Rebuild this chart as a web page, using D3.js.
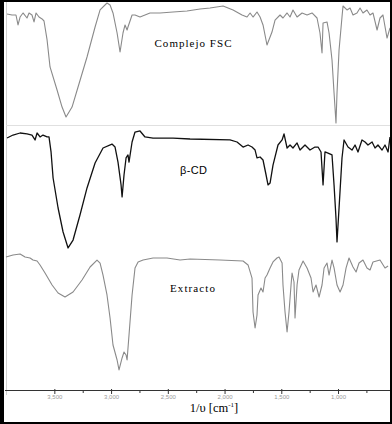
<!DOCTYPE html>
<html>
<head>
<meta charset="utf-8">
<script src="https://cdn.jsdelivr.net/npm/d3@7"></script>
<style>
  body { margin: 0; background: #fff; }
  svg { display: block; }
</style>
</head>
<body>
<svg id="chart" width="392" height="424"></svg>
<script>
// spectra: [wavenumber cm-1, transmittance %]
const complejoFSC = [
  [3917,93.3],[3873,92.5],[3838,92.5],[3820,84.2],[3802,90.8],[3776,94.2],[3741,90],[3723,94.2],
  [3697,92.5],[3679,86.7],[3661,94.2],[3635,90.8],[3608,89.2],[3591,87.5],[3564,71.7],[3538,49.2],
  [3476,30],[3432,15.8],[3397,7.5],[3344,15.8],[3291,32.5],[3212,57.5],[3141,82.5],[3097,96.7],
  [3036,102.5],[3009,100.8],[2983,94.2],[2947,77.5],[2921,61.7],[2895,77.5],[2877,84.2],[2859,80],
  [2851,82.5],[2815,92.5],[2789,92.5],[2745,90.8],[2657,94.2],[2569,94.2],[2454,95],[2331,95.8],
  [2216,97.5],[2128,98.3],[2013,100],[1925,96.7],[1846,92.5],[1802,90.8],[1775,94.2],[1749,90.8],
  [1714,95],[1687,90.8],[1661,84.2],[1626,67.5],[1582,78.3],[1555,88.3],[1511,92.5],[1485,90],
  [1449,94.2],[1423,90.8],[1397,96.7],[1361,90.8],[1317,94.2],[1273,92.5],[1229,94.2],[1185,90],
  [1159,77.5],[1141,60.8],[1132,85.8],[1097,86.7],[1079,77.5],[1053,55],[1035,27.5],[1018,2.5],
  [1009,27.5],[991,63.3],[965,90.8],[956,100],[921,96.7],[894,98.3],[868,92.5],[833,94.2],
  [806,98.3],[780,94.2],[745,96.7],[718,92.5],[692,94.2],[656,80],[630,90],[604,92.5],
  [568,73.3],[542,81.7]
];

const betaCD = [
  [3917,93.3],[3864,95.8],[3802,97.5],[3741,96.7],[3697,95.8],[3670,91.7],[3652,97.5],[3626,94.2],
  [3600,95.8],[3564,94.2],[3547,94.2],[3529,81.7],[3511,60],[3467,35],[3423,15],[3379,1.7],
  [3335,8.3],[3274,29.2],[3212,51.7],[3141,72.5],[3071,85],[2992,88.3],[2965,85.8],[2939,73.3],
  [2912,54.2],[2903,44.2],[2886,62.5],[2868,76.7],[2851,79.2],[2842,73.3],[2815,90],[2789,98.3],
  [2745,99.2],[2701,94.2],[2630,93.3],[2454,93.3],[2304,92.5],[1952,91.7],[1890,90],[1837,85.8],
  [1793,87.5],[1758,85.8],[1731,83.3],[1714,76.7],[1687,77.5],[1661,75],[1634,62.5],[1617,54.2],
  [1599,55.8],[1573,70.8],[1529,87.5],[1493,91.7],[1476,96.7],[1449,85],[1423,87.5],[1397,85],
  [1361,89.2],[1335,83.3],[1291,87.5],[1247,83.3],[1203,85.8],[1176,85.8],[1150,81.7],[1132,54.2],
  [1115,81.7],[1088,80.8],[1053,79.2],[1035,54.2],[1018,26.7],[1009,6.7],[991,35],[965,76.7],
  [947,91.7],[912,85.8],[877,83.3],[850,87.5],[824,81.7],[789,91.7],[762,90],[736,87.5],
  [700,90],[674,85],[648,87.5],[612,83.3],[586,87.5],[559,81.7],[542,94.2]
];

const extracto = [
  [3926,95.8],[3864,97.5],[3802,98.3],[3758,95.8],[3714,95],[3688,93.3],[3652,92.5],[3626,89.2],
  [3582,82.5],[3520,72.5],[3467,65.8],[3406,62.5],[3335,66.7],[3256,76.7],[3185,87.5],[3124,93.3],
  [3097,90.8],[3071,80.8],[3036,64.2],[3009,45],[2983,22.5],[2947,10],[2930,1.7],[2903,11.7],
  [2886,16.7],[2868,14.2],[2859,10],[2842,30.8],[2815,64.2],[2789,86.7],[2762,91.7],[2718,93.3],
  [2630,95],[2507,95],[2392,93.3],[2304,94.2],[2040,93.3],[1837,92.5],[1793,89.2],[1758,78.3],
  [1749,50],[1731,36.7],[1714,47.5],[1705,64.2],[1679,70],[1661,66.7],[1643,78.3],[1626,80.8],
  [1599,86.7],[1573,91.7],[1538,95],[1520,95.8],[1493,90.8],[1485,72.5],[1467,50],[1449,33.3],
  [1432,50],[1414,72.5],[1405,82.5],[1388,75],[1379,45],[1361,72.5],[1344,85],[1308,92.5],
  [1273,86.7],[1238,78.3],[1220,66.7],[1194,72.5],[1167,62.5],[1141,72.5],[1123,86.7],[1097,90.8],
  [1079,80.8],[1053,93.3],[1035,86.7],[1009,72.5],[982,66.7],[956,72.5],[929,86.7],[903,95],
  [868,87.5],[841,83.3],[815,90.8],[780,93.3],[745,86.7],[718,85],[692,91.7],[630,93.3],
  [586,86.7],[559,88.3]
];

const majorTicks = [3500, 3000, 2500, 2000, 1500, 1000];
const minorTicks = [3250, 2750, 2250, 1750, 1250, 750];
const panelLabels = ["Complejo FSC", "β-CD", "Extracto"];

const W = 392, H = 424;
const svg = d3.select("#chart");

// x is shared, wavenumber decreasing left to right
const x = d3.scaleLinear().domain([3926, 542]).range([6, 390]);

// one y scale per stacked panel
const panels = [
  { data: complejoFSC, y: d3.scaleLinear().domain([0, 100]).range([126, 6]),
    color: "#8a8a8a", width: 1.1, label: panelLabels[0], lx: 193, ly: 47,
    font: "'Liberation Serif', serif", len: 77 },
  { data: betaCD, y: d3.scaleLinear().domain([0, 100]).range([250, 130]),
    color: "#111", width: 1.3, label: panelLabels[1], lx: 193.5, ly: 174,
    font: "'Liberation Sans', sans-serif", len: 27 },
  { data: extracto, y: d3.scaleLinear().domain([0, 100]).range([372, 252]),
    color: "#8a8a8a", width: 1.1, label: panelLabels[2], lx: 192.5, ly: 292,
    font: "'Liberation Serif', serif", len: 45 }
];

// light frame lines
svg.append("line")
  .attr("x1", 6.5).attr("x2", 6.5).attr("y1", 0).attr("y2", 395)
  .attr("stroke", "#d0d0d0");
svg.append("line")
  .attr("x1", 6).attr("x2", 390).attr("y1", 125.5).attr("y2", 125.5)
  .attr("stroke", "#e0e0e0");

panels.forEach(p => {
  const line = d3.line()
    .x(d => x(d[0]))
    .y(d => p.y(d[1]));

  svg.append("path")
    .datum(p.data)
    .attr("fill", "none")
    .attr("stroke", p.color)
    .attr("stroke-width", p.width)
    .attr("stroke-linejoin", "round")
    .attr("d", line);

  svg.append("text")
    .attr("x", p.lx)
    .attr("y", p.ly)
    .attr("text-anchor", "middle")
    .attr("font-family", p.font)
    .attr("font-size", 11)
    .attr("textLength", p.len)
    .attr("lengthAdjust", "spacing")
    .attr("fill", "#000")
    .text(p.label);
});

// bottom axis
const axisY = 390;
svg.append("g")
  .attr("transform", `translate(0,${axisY})`)
  .call(d3.axisBottom(x).tickValues(minorTicks).tickSize(3).tickFormat(""))
  .call(g => g.select(".domain").remove())
  .call(g => g.selectAll("line").attr("stroke", "#333"));

svg.append("g")
  .attr("transform", `translate(0,${axisY})`)
  .call(d3.axisBottom(x).tickValues(majorTicks).tickSize(4).tickPadding(1).tickSizeOuter(0))
  .call(g => g.select(".domain").attr("stroke", "#333").attr("d", "M5,0.5H390"))
  .call(g => g.selectAll(".tick line").attr("y1", -1).attr("stroke", "#333"))
  .call(g => g.selectAll(".tick text")
    .attr("fill", "#9a9a9a")
    .attr("font-family", "'Liberation Sans', sans-serif")
    .attr("font-size", 6));

// axis title
const title = svg.append("text")
  .attr("x", 214)
  .attr("y", 412)
  .attr("text-anchor", "middle")
  .attr("font-family", "'Liberation Serif', serif")
  .attr("font-size", 12.5)
  .attr("fill", "#000");
title.append("tspan").text("1/υ [cm");
title.append("tspan").attr("font-size", 7).attr("dy", -5).text("-1");
title.append("tspan").attr("dy", 5).text("]");

// outer black border, heavier on the left
svg.append("rect")
  .attr("x", 1).attr("y", 1).attr("width", W - 2).attr("height", H - 2)
  .attr("fill", "none").attr("stroke", "#000").attr("stroke-width", 2);
svg.append("rect")
  .attr("x", 0).attr("y", 0).attr("width", 4).attr("height", H)
  .attr("fill", "#000");
</script>
</body>
</html>
